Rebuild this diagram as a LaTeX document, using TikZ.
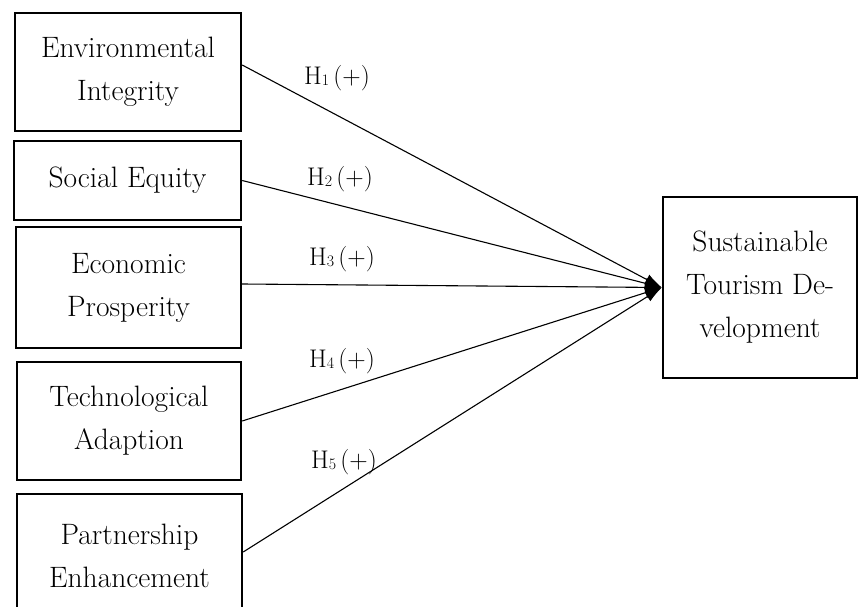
\documentclass[tikz,border=0pt]{standalone}
\usepackage{fontspec}
\usetikzlibrary{arrows.meta}
\begin{document}
\begin{tikzpicture}[x=1pt,y=-1pt,
  box/.style={draw, line width=2.4pt, align=center, inner sep=0pt,
    font=\fontsize{29.5}{43}\selectfont},
  link/.style={line width=1.1pt, -{Latex[length=17pt,width=11pt]}},
  hyp/.style={anchor=base west, inner sep=0pt, font=\fontsize{25.5}{30}\selectfont}]
\useasboundingbox (0,0) rectangle (859,607);
\node[box, minimum width=226pt, minimum height=118pt] (b1) at (128,72) {Environmental\\Integrity};
\node[box, minimum width=227pt, minimum height=79pt] (b2) at (127.5,180.5) {Social Equity};
\node[box, minimum width=225pt, minimum height=121pt] (b3) at (128.5,287.5) {Economic\\Prosperity};
\node[box, minimum width=224pt, minimum height=118pt] (b4) at (129,421) {Technological\\Adaption};
\node[box, minimum width=225pt, minimum height=124pt] (b5) at (129.5,556) {Partnership\\Enhancement};
\node[box, minimum width=194pt, minimum height=181pt] (sd) at (760,287.5) {Sustainable\\Tourism De-\\velopment};
\draw[link] ([yshift=7pt]b1.east) -- (sd.west);
\draw[link] (b2.east) -- (sd.west);
\draw[link] ([yshift=3.5pt]b3.east) -- (sd.west);
\draw[link] (b4.east) -- (sd.west);
\draw[link] ([yshift=4pt]b5.east) -- (sd.west);
\newcommand{\hsub}[1]{H{\fontsize{16}{16}\selectfont\raisebox{-1pt}{#1}}\,(+)}
\node[hyp] (h1) at (304,85) {\hsub{1}};
\node[hyp] (h2) at (307,185) {\hsub{2}};
\node[hyp] (h3) at (309,265) {\hsub{3}};
\node[hyp] (h4) at (309,367) {\hsub{4}};
\node[hyp] (h5) at (311,468) {\hsub{5}};
\end{tikzpicture}
\end{document}
